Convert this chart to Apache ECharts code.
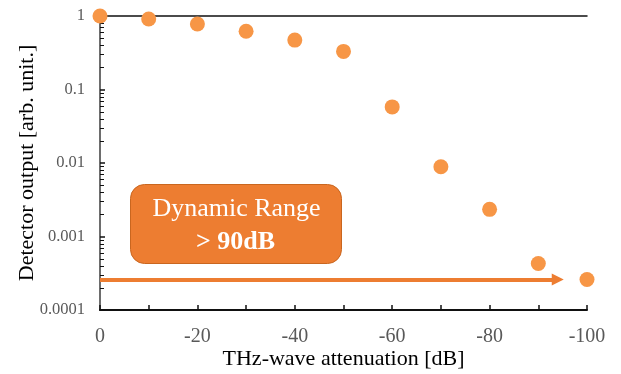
<!DOCTYPE html>
<html>
<head>
<meta charset="utf-8">
<script src="https://cdn.jsdelivr.net/npm/echarts@6/dist/echarts.min.js"></script>
<style>
  html, body { margin: 0; padding: 0; background: #fff; }
  #chart { width: 621px; height: 374px; }
</style>
</head>
<body>
<div id="chart"></div>
<script>
// attenuation steps [dB] and the detector output measured at each
var attenuation = [0, -10, -20, -30, -40, -50, -60, -70, -80, -90, -100];
var output = [1.0, 0.91, 0.78, 0.62, 0.47, 0.33, 0.058, 0.0089, 0.00234, 0.00043, 0.00026];
// arrow marking the dynamic range
var arrowFrom = [0, 0.00026];
var arrowTo = [-94, 0.00026];
// minor log ticks 2..9 in each decade
var minorTicks = [];
[0.0001, 0.001, 0.01, 0.1].forEach(function (d) {
  for (var k = 2; k <= 9; k++) minorTicks.push(d * k);
});

var serif = "'Liberation Serif', 'Times New Roman', serif";
var chart = echarts.init(document.getElementById("chart"));

var option = {
  backgroundColor: "#fff",
  animation: false,
  grid: { left: 100, right: 34, top: 16, bottom: 64, outerBoundsMode: "none", containLabel: false },
  xAxis: [
    {
      type: "value",
      min: -100,
      max: 0,
      interval: 10,
      inverse: true,
      name: "THz-wave attenuation [dB]",
      nameLocation: "middle",
      nameGap: 38,
      nameMoveOverlap: false,
      nameTextStyle: { fontFamily: serif, fontSize: 22, color: "#000" },
      axisLine: { lineStyle: { color: "#111", width: 2 } },
      axisTick: { inside: true, length: 5, lineStyle: { color: "#111", width: 1.5 } },
      axisLabel: {
        margin: 17,
        fontFamily: serif,
        fontSize: 20,
        color: "#595959",
        formatter: function (v) { return v % 20 === 0 ? String(v) : ""; }
      },
      splitLine: { show: false }
    },
    {
      type: "value",
      position: "top",
      min: -100,
      max: 0,
      inverse: true,
      axisLine: { show: true, lineStyle: { color: "#111", width: 1.5 } },
      axisTick: { show: false },
      axisLabel: { show: false },
      splitLine: { show: false }
    }
  ],
  yAxis: [
    {
      type: "log",
      logBase: 10,
      min: 0.0001,
      max: 1,
      name: "Detector output [arb. unit.]",
      nameLocation: "middle",
      nameGap: 62,
      nameMoveOverlap: false,
      nameTextStyle: { fontFamily: serif, fontSize: 22, color: "#000" },
      axisLine: { show: true, lineStyle: { color: "#111", width: 2 } },
      axisTick: { inside: true, length: 5, lineStyle: { color: "#111", width: 1.5 } },
      axisLabel: {
        margin: 15,
        fontFamily: serif,
        fontSize: 16.5,
        color: "#595959",
        formatter: function (v) { return String(+v.toPrecision(1)); }
      },
      splitLine: { show: false }
    },
    {
      type: "log",
      logBase: 10,
      position: "right",
      min: 0.0001,
      max: 1,
      axisLine: { show: true, lineStyle: { color: "#8c8c8c", width: 1.5 } },
      axisTick: { show: false },
      axisLabel: { show: false },
      splitLine: { show: false }
    }
  ],
  series: [
    {
      type: "custom",
      silent: true,
      data: minorTicks,
      renderItem: function (params, api) {
        var p = api.coord([0, api.value(0)]);
        var y = Math.round(p[1]) + 0.5;
        return {
          type: "line",
          shape: { x1: p[0], y1: y, x2: p[0] + 4, y2: y },
          style: { stroke: "#111", lineWidth: 1 }
        };
      },
      encode: { y: 0 },
      z: 1
    },
    {
      type: "scatter",
      data: attenuation.map(function (a, i) { return [a, output[i]]; }),
      symbol: "circle",
      symbolSize: 15,
      itemStyle: { color: "#F79646", opacity: 1 },
      z: 5,
      markLine: {
        silent: true,
        symbol: ["none", "triangle"],
        symbolSize: [12, 12],
        label: { show: false },
        lineStyle: { color: "#ED7D31", width: 4, type: "solid" },
        data: [[{ coord: arrowFrom }, { coord: arrowTo }]]
      }
    }
  ],
  graphic: [
    {
      type: "group",
      left: 130,
      top: 184,
      children: [
        {
          type: "rect",
          shape: { x: 0, y: 0, width: 211, height: 79, r: 14 },
          style: { fill: "#ED7D31", stroke: "#C9661F", lineWidth: 1 }
        },
        {
          type: "text",
          x: 106,
          y: 25,
          style: {
            text: "Dynamic Range",
            fill: "#fff",
            font: "26px " + serif,
            align: "center",
            verticalAlign: "middle"
          }
        },
        {
          type: "text",
          x: 105,
          y: 58,
          style: {
            text: "> 90dB",
            fill: "#fff",
            font: "bold 26px " + serif,
            align: "center",
            verticalAlign: "middle"
          }
        }
      ]
    }
  ]
};

chart.setOption(option);
</script>
</body>
</html>
